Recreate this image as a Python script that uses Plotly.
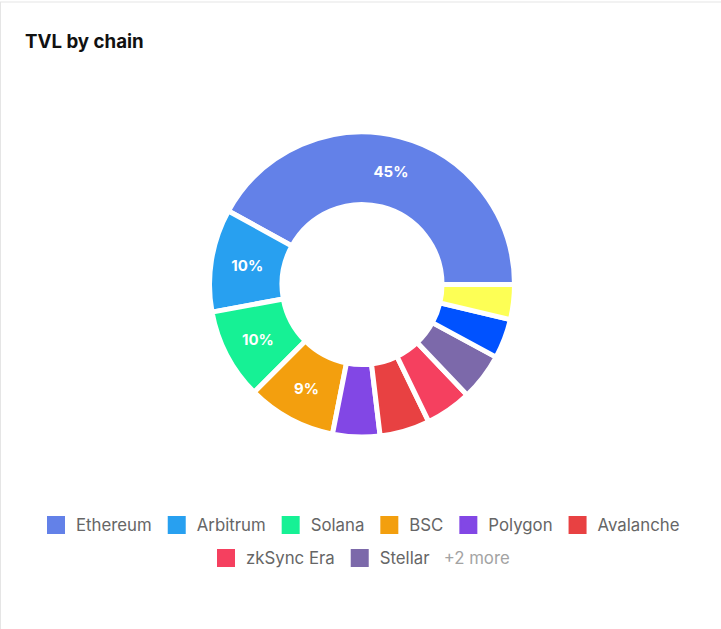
import plotly.graph_objects as go

# ---- data ----
chains = ["Ethereum", "Arbitrum", "Solana", "BSC", "Polygon", "Avalanche",
          "zkSync Era", "Stellar", "Other 1", "Other 2"]
shares = [42.0, 10.9, 9.6, 9.4, 5.0, 5.3, 4.9, 5.0, 4.2, 3.7]
shown_pct = ["45%", "10%", "10%", "9%", "", "", "", "", "", ""]
colors = ["#6381E8", "#28A0F0", "#16F195", "#F39F0E", "#8247E5", "#E84142",
          "#F5405F", "#7C69AA", "#0052FF", "#FDFF55"]
legend_row1 = ["Ethereum", "Arbitrum", "Solana", "BSC", "Polygon", "Avalanche"]
legend_row2 = ["zkSync Era", "Stellar"]
more_text = "+2 more"

W, H = 721, 629
cx, cy = 362, 284.5          # donut centre (px)
r_vis = 150                  # visible outer radius
gap = 5                      # white separator width
R = r_vis + gap / 2
hole = (82.5 - gap / 2) / R

# plotly's counterclockwise pies end the first slice at `rotation`;
# make the first slice start at 3 o'clock instead
first_deg = shares[0] / sum(shares) * 360
rotation = 90 - first_deg

fig = go.Figure()

fig.add_trace(go.Pie(
    labels=chains, values=shares, text=shown_pct, textinfo="text",
    sort=False, direction="counterclockwise", rotation=rotation, hole=hole,
    marker=dict(colors=colors, line=dict(color="white", width=gap)),
    textposition="inside", insidetextorientation="horizontal",
    textfont=dict(family="Inter", size=15, color="white", weight="bold"),
    hoverinfo="skip", showlegend=False,
    domain=dict(x=[(cx - R) / W, (cx + R) / W],
                y=[(H - cy - R) / H, (H - cy + R) / H]),
))

color_of = dict(zip(chains, colors))


def swatch(c):
    return dict(symbol="square", size=16, color=c, line=dict(color=c, width=2))


for name in legend_row1:
    fig.add_trace(go.Scatter(x=[None], y=[None], mode="markers", name=name,
                             marker=swatch(color_of[name]),
                             legend="legend", hoverinfo="skip"))
for name in legend_row2:
    label = name
    if name == legend_row2[-1]:
        label = name + "&nbsp;&nbsp;&nbsp;<span style='color:#a3a3a3'>" + more_text + "</span>"
    fig.add_trace(go.Scatter(x=[None], y=[None], mode="markers", name=label,
                             marker=swatch(color_of[name]),
                             legend="legend2", hoverinfo="skip"))

legend_style = dict(orientation="h", xanchor="center", x=0.5, yanchor="middle",
                    bgcolor="rgba(0,0,0,0)", borderwidth=0,
                    font=dict(family="Inter", size=16.8, color="#666666"),
                    itemclick=False, itemdoubleclick=False)

fig.update_layout(
    width=W, height=H,
    margin=dict(l=0, r=0, t=0, b=0),
    paper_bgcolor="white", plot_bgcolor="white",
    xaxis=dict(visible=False), yaxis=dict(visible=False),
    title=dict(text="<b>TVL by chain</b>", x=25 / W, xanchor="left",
               y=1 - 41 / H, yanchor="middle",
               font=dict(family="Inter", size=18.7, color="#111111")),
    legend=dict(**legend_style, y=1 - 525 / H),
    legend2=dict(**legend_style, y=1 - 558 / H),
    shapes=[
        dict(type="line", xref="paper", yref="paper", x0=0, x1=1,
             y0=1 - 2 / H, y1=1 - 2 / H, line=dict(color="#e5e5e5", width=1)),
        dict(type="line", xref="paper", yref="paper", x0=0.5 / W, x1=0.5 / W,
             y0=0, y1=1 - 2 / H, line=dict(color="#e5e5e5", width=1)),
    ],
)

fig.write_html("out.html")
